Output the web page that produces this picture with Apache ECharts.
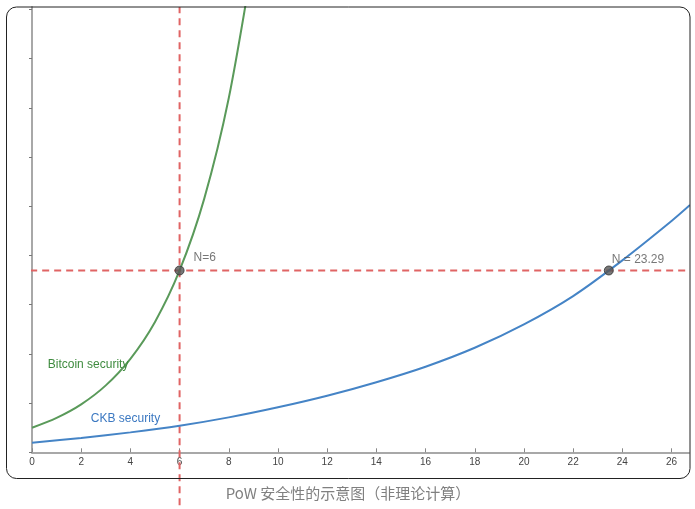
<!DOCTYPE html>
<html>
<head>
<meta charset="utf-8">
<script src="https://cdn.jsdelivr.net/npm/echarts@6/dist/echarts.min.js"></script>
<style>
html,body{margin:0;padding:0;background:#fff;}
#chart{width:695px;height:509px;}
</style>
</head>
<body>
<div id="chart"></div>
<script>
// ---- data ----
const xTicks = [0, 2, 4, 6, 8, 10, 12, 14, 16, 18, 20, 22, 24, 26];
const yTicks = [0, 2, 4, 6, 8, 10, 12, 14, 16, 18];

const bitcoinX = [0, 1, 2, 3, 4, 5, 6, 7, 8, 9];
const bitcoinY = [1.0, 1.4, 1.95, 2.72, 3.8, 5.3, 7.39, 10.3, 14.4, 20.1];

const ckbX = [0, 2, 4, 6, 8, 10, 12, 14, 16, 18, 20, 22, 24, 26, 26.75];
const ckbY = [0.39, 0.58, 0.81, 1.08, 1.42, 1.83, 2.30, 2.85, 3.48, 4.25, 5.2, 6.35, 7.8, 9.4, 10.05];

// intersection points (position as drawn in the picture)
const pointX = [6, 23.45];
const pointY = [7.39, 7.39];
const pointLabels = ['N=6', 'N = 23.29'];

const refX = 6;       // vertical dashed line
const refY = 7.39;    // horizontal dashed line

const curveNames = ['Bitcoin security', 'CKB security'];
const caption = 'PoW 安全性的示意图（非理论计算）';

// ---- chart ----
const chart = echarts.init(document.getElementById('chart'), null, {renderer: 'canvas'});
const XMIN = 0, XMAX = 26.71, YMIN = 0, YMAX = 18.1;
const dashColor = '#e06464';
const green = '#5a9a5a';
const blue = '#4584c6';
const font = '"Liberation Sans", Arial, sans-serif';

const option = {
  animation: false,
  backgroundColor: '#fff',
  grid: {left: 32, right: 6, top: 7, bottom: 56.7, containLabel: false},
  xAxis: {
    type: 'value', min: XMIN, max: XMAX,
    axisLine: {show: true, onZero: false, lineStyle: {color: '#a8a8a8', width: 2}},
    axisTick: {show: true, inside: true, length: 4, customValues: xTicks, lineStyle: {color: '#888', width: 1}},
    axisLabel: {show: true, customValues: xTicks, margin: 5, fontSize: 10, color: '#444', fontFamily: font},
    splitLine: {show: false}
  },
  yAxis: {
    type: 'value', min: YMIN, max: YMAX,
    axisLine: {show: true, onZero: false, lineStyle: {color: '#a8a8a8', width: 2}},
    axisTick: {show: true, inside: false, length: 3, customValues: yTicks, lineStyle: {color: '#777', width: 1}},
    axisLabel: {show: false},
    splitLine: {show: false}
  },
  series: [
    {
      type: 'line', silent: true, clip: false, symbol: 'none', z: 1,
      data: [[refX, -2.15], [refX, YMAX]],
      lineStyle: {color: dashColor, width: 2, type: [7, 5]}
    },
    {
      type: 'line', silent: true, clip: false, symbol: 'none', z: 1,
      data: [[-1.05, refY], [XMAX, refY]],
      lineStyle: {color: dashColor, width: 2, type: [7, 5]}
    },
    {
      name: curveNames[0], type: 'line', smooth: 0.3, symbol: 'none', clip: true, z: 3,
      data: bitcoinX.map((x, i) => [x, bitcoinY[i]]),
      lineStyle: {color: green, width: 2},
      markPoint: {
        symbol: 'circle', symbolSize: 0, silent: true,
        label: {show: true, position: 'inside', formatter: curveNames[0], color: '#3f8b3f', fontSize: 12, fontFamily: font},
        data: [{coord: [2.28, 3.56]}]
      }
    },
    {
      name: curveNames[1], type: 'line', smooth: 0.3, symbol: 'none', clip: true, z: 3,
      data: ckbX.map((x, i) => [x, ckbY[i]]),
      lineStyle: {color: blue, width: 2},
      markPoint: {
        symbol: 'circle', symbolSize: 0, silent: true,
        label: {show: true, position: 'inside', formatter: curveNames[1], color: '#3b78c1', fontSize: 12, fontFamily: font},
        data: [{coord: [3.8, 1.35]}]
      }
    },
    {
      type: 'scatter', z: 5, silent: true,
      symbol: 'circle', symbolSize: 9,
      itemStyle: {color: '#555', borderColor: '#333', borderWidth: 1},
      data: pointX.map((x, i) => ({
        value: [x, pointY[i]],
        label: {
          show: true, position: 'right',
          offset: i === 0 ? [4, -13] : [-7, -11],
          formatter: pointLabels[i], color: '#555', fontSize: 12, fontFamily: font
        }
      }))
    }
  ],
  graphic: [
    {
      type: 'rect', silent: true, z: 100,
      shape: {x: 6.5, y: 7, width: 683.5, height: 471.5, r: 10},
      style: {fill: null, stroke: '#222', lineWidth: 1}
    },
    {
      type: 'text', silent: true, z: 100,
      x: 348, y: 493,
      style: {text: caption, fill: '#808080', font: '15px "Noto Sans CJK SC", sans-serif', textAlign: 'center', textVerticalAlign: 'middle'}
    }
  ]
};
chart.setOption(option);
</script>
</body>
</html>
